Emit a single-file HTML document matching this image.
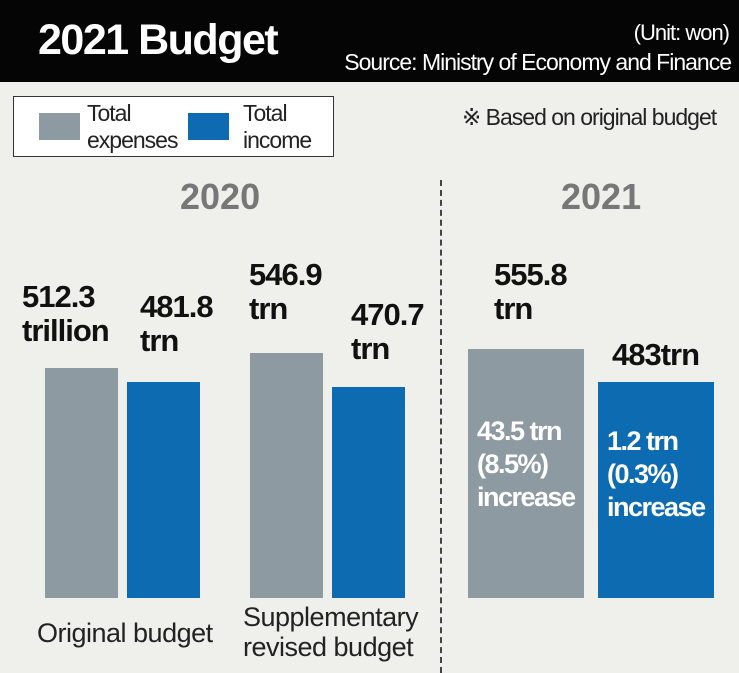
<!DOCTYPE html>
<html><head><meta charset="utf-8"><style>
body{margin:0;width:739px;height:673px;background:#efefeb;position:relative;overflow:hidden;font-family:"Liberation Sans",sans-serif}
div{position:absolute}
.b{font-weight:bold;color:#111;font-size:31px;line-height:34px;letter-spacing:-1px}
.w{font-weight:bold;color:#fff;font-size:27px;line-height:33px;letter-spacing:-1.5px}
.l{color:#222;font-size:25px;line-height:30px;letter-spacing:-0.5px}
</style></head><body>
<div style="left:0;top:0;width:739px;height:82px;background:#050505"></div>
<div style="left:38px;top:16px;color:#fff;font-weight:bold;font-size:43px;letter-spacing:-1.5px">2021 Budget</div>
<div style="right:10px;top:20px;color:#fff;font-size:22px;letter-spacing:-1px;text-align:right">(Unit: won)</div>
<div style="right:8px;top:49px;color:#fff;font-size:23px;letter-spacing:-1px;text-align:right">Source: Ministry of Economy and Finance</div>
<div style="left:13px;top:96px;width:319px;height:59px;background:#fff;border:1px solid #333"></div>
<div style="left:39px;top:113px;width:41px;height:27px;background:#8d9aa1"></div>
<div style="left:188px;top:113px;width:41px;height:27px;background:#0d6bb2"></div>
<div class="l" style="left:87px;top:100px;font-size:23px;line-height:27px;letter-spacing:-1px">Total<br>expenses</div>
<div class="l" style="left:243px;top:100px;font-size:23px;line-height:27px;letter-spacing:-1px">Total<br>income</div>
<div class="l" style="left:462px;top:102px;font-size:23px;letter-spacing:-1px">※ Based on original budget</div>
<div style="left:180px;top:176px;color:#777;font-weight:bold;font-size:36px">2020</div>
<div style="left:561px;top:176px;color:#777;font-weight:bold;font-size:36px">2021</div>
<div style="left:440px;top:180px;height:493px;border-left:2px dashed #444"></div>
<div style="left:45px;top:368px;width:73px;height:230px;background:#8d9aa1"></div>
<div style="left:127px;top:382px;width:73px;height:216px;background:#0d6bb2"></div>
<div style="left:250px;top:353px;width:73px;height:245px;background:#8d9aa1"></div>
<div style="left:332px;top:387px;width:73px;height:211px;background:#0d6bb2"></div>
<div style="left:468px;top:349px;width:116px;height:249px;background:#8d9aa1"></div>
<div style="left:598px;top:382px;width:116px;height:216px;background:#0d6bb2"></div>
<div class="b" style="left:22px;top:280px">512.3<br>trillion</div>
<div class="b" style="left:140px;top:290px">481.8<br>trn</div>
<div class="b" style="left:249px;top:258px">546.9<br>trn</div>
<div class="b" style="left:351px;top:298px">470.7<br>trn</div>
<div class="b" style="left:494px;top:258px">555.8<br>trn</div>
<div class="b" style="left:612px;top:338px">483trn</div>
<div class="w" style="left:477px;top:415px">43.5 trn<br>(8.5%)<br>increase</div>
<div class="w" style="left:607px;top:425px">1.2 trn<br>(0.3%)<br>increase</div>
<div class="l" style="left:37px;top:618px;font-size:27px">Original budget</div>
<div class="l" style="left:243px;top:602px;font-size:27px">Supplementary<br>revised budget</div>
</body></html>
